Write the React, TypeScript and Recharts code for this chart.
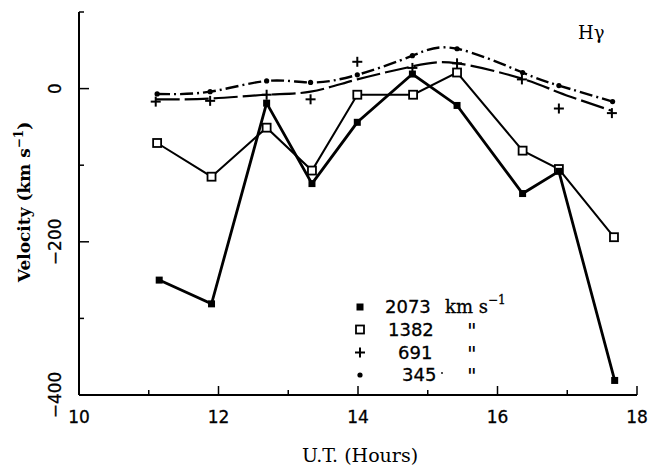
import { ComposedChart, Line, XAxis, YAxis } from "recharts";

// U.T. (hours) and velocity (km/s)
const hours2073 = [11.15, 11.9, 12.69, 13.34, 13.99, 14.78, 15.42, 16.36, 16.88, 17.68];
const vel2073 = [-250, -281, -19, -124, -44, 19, -22, -137, -108, -381];

const hours1382 = [11.12, 11.9, 12.69, 13.34, 13.99, 14.79, 15.42, 16.36, 16.88, 17.67];
const vel1382 = [-71, -115, -51, -107, -8, -8, 21, -81, -105, -194];

const hours691 = [11.1, 11.88, 12.69, 13.32, 13.99, 14.78, 15.42, 16.35, 16.88, 17.64];
const vel691 = [-17, -16, -8, -14, 35, 27, 33, 12, -26, -32];
// smoothed curve drawn through the 691 points (not through every cross)
const fit691 = [-14, -13, -8, -4, 12, 29, 33, 13, -5, -29];

const hours345 = [11.12, 11.88, 12.69, 13.32, 13.99, 14.78, 15.42, 16.36, 16.88, 17.65];
const vel345 = [-7, -4, 10, 8, 18, 43, 52, 21, 4, -17];

const xTicks = [10, 11, 12, 13, 14, 15, 16, 17, 18];
const xLabels = [10, 12, 14, 16, 18];
const yTicks = [-400, -300, -200, -100, 0, 100];
const yLabels = [-400, -200, 0];

const zip = (xs: number[], ys: number[]) => xs.map((x, i) => ({ x, y: ys[i] }));

const d2073 = zip(hours2073, vel2073);
const d1382 = zip(hours1382, vel1382);
const d691pts = zip(hours691, vel691);
const d691fit = zip(hours691, fit691);
const d345 = zip(hours345, vel345);

const TICK_FONT = "'DejaVu Sans', sans-serif";
const SERIF = "'DejaVu Serif', serif";

// ── markers ──
const FilledSquare = ({ cx, cy }: any) => <rect x={cx - 3.5} y={cy - 3.5} width={7} height={7} fill="#000" />;
const OpenSquare = ({ cx, cy }: any) => (
  <rect x={cx - 4} y={cy - 4} width={8} height={8} fill="#fff" stroke="#000" strokeWidth={1.8} />
);
const Plus = ({ cx, cy }: any) => (
  <g stroke="#000" strokeWidth={2}>
    <line x1={cx - 5} x2={cx + 5} y1={cy} y2={cy} />
    <line x1={cx} x2={cx} y1={cy - 5} y2={cy + 5} />
  </g>
);
const Dot = ({ cx, cy }: any) => <circle cx={cx} cy={cy} r={2.6} fill="#000" />;

// ── ticks: drawn inward, labels only on major values ──
const BottomTick = ({ x, y, payload }: any) => {
  const major = xLabels.includes(payload.value);
  return (
    <g>
      <line x1={x} x2={x} y1={y} y2={y - (major ? 9 : 5)} stroke="#000" strokeWidth={1.5} />
      {major && (
        <text x={x} y={y + 28} textAnchor="middle" fontFamily={TICK_FONT} fontSize={17} fill="#000"
          stroke="#000" strokeWidth={0.3}>
          {payload.value}
        </text>
      )}
    </g>
  );
};
const TopTick = ({ x, y, payload }: any) => {
  const major = xLabels.includes(payload.value);
  return <line x1={x} x2={x} y1={y} y2={y + (major ? 9 : 5)} stroke="#000" strokeWidth={1.5} />;
};
const LeftTick = ({ x, y, payload }: any) => {
  const major = yLabels.includes(payload.value);
  const txt = payload.value < 0 ? `\u2212${Math.abs(payload.value)}` : `${payload.value}`;
  return (
    <g>
      <line x1={x} x2={x + (major ? 10 : 5)} y1={y} y2={y} stroke="#000" strokeWidth={1.5} />
      {major && (
        <text
          x={x - 18}
          y={y}
          transform={`rotate(-90 ${x - 18} ${y})`}
          textAnchor="middle"
          fontFamily={TICK_FONT}
          fontSize={17}
          fill="#000"
          stroke="#000"
          strokeWidth={0.3}
        >
          {txt}
        </text>
      )}
    </g>
  );
};
const RightTick = ({ x, y, payload }: any) => {
  const major = yLabels.includes(payload.value);
  return <line x1={x} x2={x - (major ? 10 : 5)} y1={y} y2={y} stroke="#000" strokeWidth={1.5} />;
};

const legendRows = [
  { Marker: FilledSquare, label: "2073", tx: 37 },
  { Marker: OpenSquare, label: "1382", tx: 40 },
  { Marker: Plus, label: "691", tx: 50 },
  { Marker: Dot, label: "345", tx: 54 },
];
const rowY = [13, 35.5, 58.5, 81];

// legend sits inside the plot, lower middle
const LegendBox = () => (
  <g transform="translate(348 294)" fill="#000">
    {legendRows.map(({ Marker, label, tx }, i) => (
      <g key={label}>
        <Marker cx={12} cy={rowY[i]} />
        <text x={tx} y={rowY[i] + 6} fontFamily={TICK_FONT} fontSize={18} stroke="#000" strokeWidth={0.3}>
          {label}
        </text>
        {i === 0 ? (
          <text x={97} y={rowY[i] + 6} fontFamily={SERIF} fontSize={18} stroke="#000" strokeWidth={0.3}>
            km s<tspan dy={-9} fontSize={12}>{"\u22121"}</tspan>
          </text>
        ) : (
          <text x={119} y={rowY[i] + 9} fontFamily={TICK_FONT} fontStyle="italic" fontSize={21}>
            {'"'}
          </text>
        )}
      </g>
    ))}
    <circle cx={94} cy={rowY[3] - 2} r={0.9} />
  </g>
);

export default function App() {
  return (
    <div style={{ position: "absolute", left: 0, top: 0, width: 653, height: 468, background: "#fff" }}>
      <ComposedChart width={653} height={468} margin={{ top: 12, right: 16, left: 0, bottom: 0 }}>
        <XAxis
          type="number"
          dataKey="x"
          domain={[10, 18]}
          ticks={xTicks}
          height={73}
          tickSize={0}
          tickMargin={0}
          tickLine={false}
          tick={<BottomTick />}
          axisLine={{ stroke: "#000", strokeWidth: 2 }}
          allowDataOverflow
        />
        <XAxis
          xAxisId="top"
          orientation="top"
          type="number"
          dataKey="x"
          domain={[10, 18]}
          ticks={xTicks}
          height={0}
          tickSize={0}
          tickMargin={0}
          tickLine={false}
          tick={<TopTick />}
          axisLine={{ stroke: "#000", strokeWidth: 2 }}
          allowDataOverflow
        />
        <YAxis
          type="number"
          domain={[-400, 100]}
          ticks={yTicks}
          width={79}
          tickSize={0}
          tickMargin={0}
          tickLine={false}
          tick={<LeftTick />}
          axisLine={{ stroke: "#000", strokeWidth: 2 }}
          allowDataOverflow
        />
        <YAxis
          yAxisId="right"
          orientation="right"
          type="number"
          domain={[-400, 100]}
          ticks={yTicks}
          width={0}
          tickSize={0}
          tickMargin={0}
          tickLine={false}
          tick={<RightTick />}
          axisLine={{ stroke: "#000", strokeWidth: 2 }}
          allowDataOverflow
        />

        <Line data={d345} dataKey="y" type="natural" stroke="#000" strokeWidth={2.4}
          strokeDasharray="13 4 2 4" dot={<Dot />} isAnimationActive={false} />
        <Line data={d691fit} dataKey="y" type="natural" stroke="#000" strokeWidth={2.2}
          strokeDasharray="24 5" dot={false} isAnimationActive={false} />
        <Line data={d691pts} dataKey="y" stroke="none" dot={<Plus />} isAnimationActive={false} />
        <Line data={d1382} dataKey="y" type="linear" stroke="#000" strokeWidth={2}
          dot={<OpenSquare />} isAnimationActive={false} />
        <Line data={d2073} dataKey="y" type="linear" stroke="#000" strokeWidth={2.8}
          dot={<FilledSquare />} isAnimationActive={false} />
      </ComposedChart>

      <svg width={653} height={468} style={{ position: "absolute", left: 0, top: 0, pointerEvents: "none" }}>
        <LegendBox />
        <text x={578} y={39} fontFamily={SERIF} fontSize={18} fill="#000">
          H{"\u03B3"}
        </text>
        <text
          x={30}
          y={202}
          transform="rotate(-90 30 202)"
          textAnchor="middle"
          fontFamily={SERIF}
          fontWeight="bold"
          fontSize={17}
          fill="#000"
        >
          Velocity (km s<tspan dy={-7} fontSize={12}>{"\u22121"}</tspan>
          <tspan dy={7}>)</tspan>
        </text>
        <text x={360} y={462} textAnchor="middle" fontFamily={SERIF} fontSize={19} fill="#000">
          U.T. (Hours)
        </text>
      </svg>
    </div>
  );
}
